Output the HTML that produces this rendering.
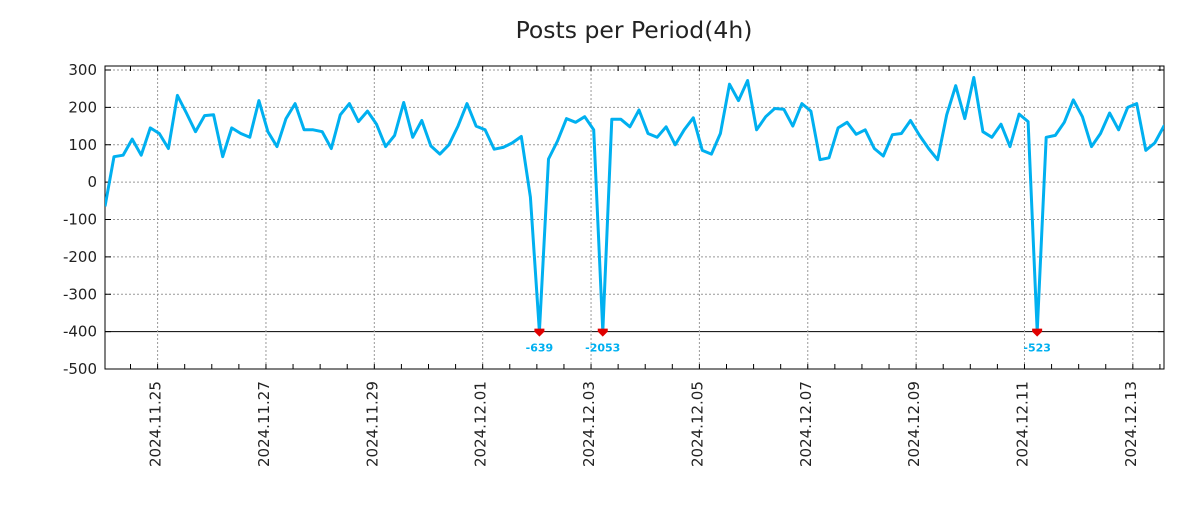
<!DOCTYPE html>
<html><head><meta charset="utf-8"><style>
body{margin:0;background:#fff;font-family:"Liberation Sans","DejaVu Sans",sans-serif}
</style></head><body>
<svg id="chart" width="1200" height="500" xmlns="http://www.w3.org/2000/svg">
<rect width="1200" height="500" fill="#fff"/>
<text x="634" y="38" text-anchor="middle" font-family="DejaVu Sans, Liberation Sans, sans-serif" font-size="23.5" fill="#222">Posts per Period(4h)</text>
<g id="grid"></g><g id="axes"></g><g id="series"></g>
</svg>
<script>
const values=[-65,68,72,115,72,145,130,90,232,185,135,178,180,68,145,130,120,218,135,95,170,210,140,140,135,90,180,210,162,190,155,95,125,213,120,165,97,75,100,150,210,150,140,88,93,105,122,-40,-639,62,110,170,160,175,140,-2053,168,168,148,193,130,120,148,100,140,172,85,75,130,262,218,272,140,175,197,195,150,210,190,60,65,145,160,128,140,90,70,127,130,165,125,90,60,180,258,170,280,135,120,155,95,182,162,-523,120,125,160,220,175,95,130,185,140,200,210,85,105,150,158];
const yTicks=[300,200,100,0,-100,-200,-300,-400,-500];
const dateLabels=["2024.11.25","2024.11.27","2024.11.29","2024.12.01","2024.12.03","2024.12.05","2024.12.07","2024.12.09","2024.12.11","2024.12.13"];
const stepHours=4, firstLabelHour=23.3, labelEveryHours=48, yMin=-500, yMax=300, clipMin=-400;
const L=105,R=1164,T=66,B=369, pxPerHour=9.05/4;
const NS="http://www.w3.org/2000/svg";
const x=h=>L+h*pxPerHour;
const y=v=>369-(v-yMin)*(369-70)/(yMax-yMin);
function mk(tag,attrs,parent){const e=document.createElementNS(NS,tag);for(const k in attrs)e.setAttribute(k,attrs[k]);parent.appendChild(e);return e;}
const grid=document.getElementById('grid'),axes=document.getElementById('axes'),series=document.getElementById('series');
yTicks.forEach(v=>{
 const gl=mk('line',{x1:L,x2:R,y1:y(v),y2:y(v),stroke:v===clipMin?'#000':'#999','stroke-width':1,'stroke-dasharray':v===clipMin?'':'2,2'},grid);
 
 
 const t=mk('text',{x:L-8,y:y(v)+5,'text-anchor':'end','font-size':15,fill:'#222','font-family':'DejaVu Sans, sans-serif'},axes);
 t.textContent=v;
 
 
 mk('line',{x1:L,x2:L+6,y1:y(v),y2:y(v),stroke:'#000'},axes);
 mk('line',{x1:R,x2:R-6,y1:y(v),y2:y(v),stroke:'#000'},axes);
});
dateLabels.forEach((d,i)=>{
 const xx=L+(firstLabelHour+i*labelEveryHours)*9.03/4;
 const gl=mk('line',{x1:xx,x2:xx,y1:T,y2:B,stroke:'#999','stroke-dasharray':'2,2'},grid);
 
 
 const t=mk('text',{x:0,y:0,transform:`translate(${xx+3},${B+98}) rotate(-90)`,'font-size':15,fill:'#222','font-family':'DejaVu Sans, sans-serif'},axes);
 t.textContent=d;
 
 
});
for(let h=firstLabelHour-12;L+h*9.03/4<R;h+=12){if(h<0)continue;const xx=L+h*9.03/4;
 mk('line',{x1:xx,x2:xx,y1:T,y2:T+5,stroke:'#000'},axes);mk('line',{x1:xx,x2:xx,y1:B,y2:B-5,stroke:'#000'},axes);}
const frame=mk('rect',{x:L,y:T,width:R-L,height:B-T,fill:'none',stroke:'#000','stroke-width':1},axes);


const pts=values.map((v,i)=>x(i*stepHours).toFixed(1)+','+y(Math.max(v,clipMin)).toFixed(1)).join(' ');
mk('clipPath',{id:'cp'},series);mk('rect',{x:L,y:T,width:R-L,height:B-T},series.lastChild);
const line=mk('polyline',{points:pts,fill:'none',stroke:'#00b0f0','stroke-width':3,'stroke-linejoin':'round','clip-path':'url(#cp)'},series);


values.forEach((v,i)=>{if(v<clipMin){const xx=x(i*stepHours),yy=y(clipMin);
 const m=mk('path',{d:`M${xx-5},${yy-3}h10v3l-5,5l-5,-5z`,fill:'#e00000'},series);
 
 
 const t=mk('text',{x:xx,y:yy+20,'text-anchor':'middle','font-size':11,'font-weight':'bold',fill:'#00b0f0','font-family':'DejaVu Sans, sans-serif'},series);
 t.textContent=v;
 
 }});
</script>
</body></html>
